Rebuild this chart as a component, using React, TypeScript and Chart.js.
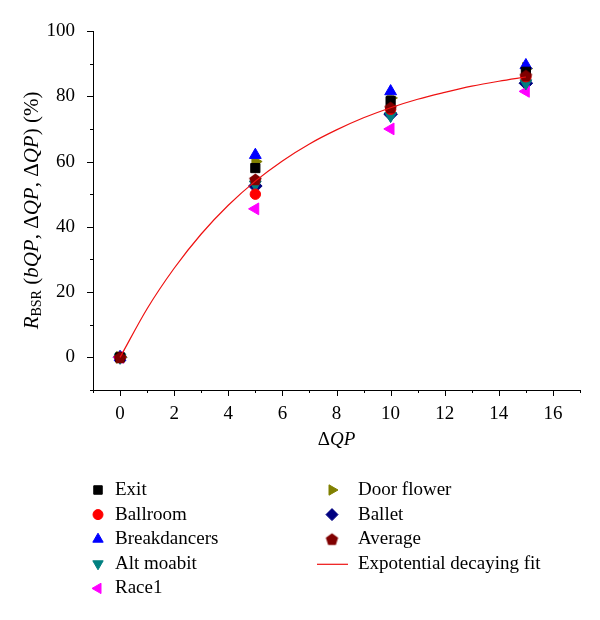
import React, { useEffect, useRef } from 'react';
import { Chart, registerables } from 'chart.js';
import { drawPoint } from 'chart.js/helpers';

Chart.register(...registerables);

// ---- data ----
const xValues = [0, 5, 10, 15];
const exitVals = [0, 58, 78.5, 87.5];
const ballroomVals = [0, 50, 76, 86];
const breakdancersVals = [0, 62, 81.5, 89.5];
const altMoabitVals = [0, 53, 74, 84];
const race1Vals = [0, 45.5, 70, 81.5];
const doorFlowerVals = [0, 60, 79.5, 88.5];
const balletVals = [0, 52.5, 74.5, 84];
const averageVals = [0, 54.5, 76.5, 86.3];

const fitX = [0, 1, 2, 3, 4, 5, 6, 7, 8, 9, 10, 11, 12, 13, 14, 15];
const fitY = [0, 14.9, 27.3, 37.8, 46.6, 54.0, 60.2, 65.4, 69.7, 73.4, 76.5, 79.1, 81.2, 83.1, 84.6, 85.9];

const xTickLabels = [0, 2, 4, 6, 8, 10, 12, 14, 16];
const yTickLabels = [0, 20, 40, 60, 80, 100];

const FONT = '"Liberation Serif", "DejaVu Serif", serif';

type Series = { label: string; values: number[]; color: string; style: string; rotation: number; radius: number };

const series: Series[] = [
  { label: 'Exit', values: exitVals, color: '#000000', style: 'rect', rotation: 0, radius: 6.5 },
  { label: 'Ballroom', values: ballroomVals, color: '#ff0000', style: 'circle', rotation: 0, radius: 5.2 },
  { label: 'Breakdancers', values: breakdancersVals, color: '#0000ff', style: 'triangle', rotation: 0, radius: 6.8 },
  { label: 'Alt moabit', values: altMoabitVals, color: '#008080', style: 'triangle', rotation: 180, radius: 6.8 },
  { label: 'Race1', values: race1Vals, color: '#ff00ff', style: 'triangle', rotation: 270, radius: 6.8 },
  { label: 'Door flower', values: doorFlowerVals, color: '#808000', style: 'triangle', rotation: 90, radius: 6.8 },
  { label: 'Ballet', values: balletVals, color: '#000080', style: 'rectRot', rotation: 0, radius: 6.8 },
  { label: 'Average', values: averageVals, color: '#800000', style: 'pentagon', rotation: 0, radius: 6 },
];
const fitLabel = 'Expotential decaying fit';
const fitColor = '#ee1111';

function makePentagon(color: string, r: number): HTMLCanvasElement {
  const size = Math.ceil(r * 2 + 2);
  const c = document.createElement('canvas');
  c.width = size;
  c.height = size;
  const ctx = c.getContext('2d')!;
  ctx.fillStyle = color;
  ctx.beginPath();
  for (let i = 0; i < 5; i++) {
    const a = -Math.PI / 2 + (i * 2 * Math.PI) / 5;
    const px = size / 2 + r * Math.cos(a);
    const py = size / 2 + 0.5 + r * Math.sin(a);
    if (i === 0) ctx.moveTo(px, py);
    else ctx.lineTo(px, py);
  }
  ctx.closePath();
  ctx.fill();
  return c;
}

type Seg = { t: string; italic?: boolean; sub?: boolean };

function segFont(s: Seg, size: number) {
  const sz = s.sub ? Math.round(size * 0.66) : size;
  return `${s.italic ? 'italic ' : ''}${sz}px ${FONT}`;
}

function drawSegs(ctx: CanvasRenderingContext2D, segs: Seg[], cx: number, cy: number, size: number) {
  let total = 0;
  for (const s of segs) {
    ctx.font = segFont(s, size);
    total += ctx.measureText(s.t).width;
  }
  let x = cx - total / 2;
  ctx.textBaseline = 'middle';
  ctx.textAlign = 'left';
  for (const s of segs) {
    ctx.font = segFont(s, size);
    ctx.fillText(s.t, x, cy + (s.sub ? size * 0.25 : 0));
    x += ctx.measureText(s.t).width;
  }
}

export default function App() {
  const ref = useRef<HTMLCanvasElement | null>(null);

  useEffect(() => {
    const canvas = ref.current;
    if (!canvas) return;
    const pentagon = makePentagon('#800000', 6.5);

    const datasets: any[] = series.map((s, i) => ({
      type: 'scatter',
      label: s.label,
      data: xValues.map((x, j) => ({ x, y: s.values[j] })),
      backgroundColor: s.color,
      borderColor: s.color,
      borderWidth: 1,
      pointStyle: s.style === 'pentagon' ? pentagon : s.style,
      rotation: s.rotation,
      pointRadius: s.radius,
      showLine: false,
      order: s.label === 'Average' ? 1 : 2 + i,
    }));
    datasets.push({
      type: 'line',
      label: fitLabel,
      data: fitX.map((x, j) => ({ x, y: fitY[j] })),
      borderColor: fitColor,
      backgroundColor: fitColor,
      borderWidth: 1.2,
      pointRadius: 0,
      fill: false,
      cubicInterpolationMode: 'monotone',
      order: 0,
    });

    const decor = {
      id: 'decor',
      afterDraw(chart: any) {
        const ctx: CanvasRenderingContext2D = chart.ctx;
        const xs = chart.scales.x;
        const ys = chart.scales.y;
        const { left, right, top, bottom } = chart.chartArea;
        ctx.save();
        ctx.strokeStyle = '#000';
        ctx.fillStyle = '#000';
        ctx.lineWidth = 1;
        // axes lines
        ctx.beginPath();
        ctx.moveTo(left, Math.round(bottom) + 0.5);
        ctx.lineTo(right, Math.round(bottom) + 0.5);
        ctx.moveTo(Math.round(left) + 0.5, top);
        ctx.lineTo(Math.round(left) + 0.5, bottom + 0.5);
        // x ticks
        for (let v = -1; v <= 17; v++) {
          const px = Math.round(xs.getPixelForValue(v)) + 0.5;
          const len = v % 2 === 0 ? 6 : 3;
          ctx.moveTo(px, bottom);
          ctx.lineTo(px, bottom + len);
        }
        // y ticks
        for (let v = -10; v <= 100; v += 10) {
          const py = Math.round(ys.getPixelForValue(v)) + 0.5;
          const len = v % 20 === 0 ? 6 : 3;
          ctx.moveTo(left, py);
          ctx.lineTo(left - len, py);
        }
        ctx.stroke();

        // axis titles
        drawSegs(ctx, [{ t: 'Δ' }, { t: 'QP', italic: true }], (left + right) / 2, 440, 19);
        ctx.save();
        ctx.translate(32, (top + bottom) / 2);
        ctx.rotate(-Math.PI / 2);
        drawSegs(
          ctx,
          [
            { t: 'R', italic: true },
            { t: 'BSR', sub: true },
            { t: ' (' },
            { t: 'b', italic: true },
            { t: 'QP', italic: true },
            { t: ', Δ' },
            { t: 'QP', italic: true },
            { t: ', Δ' },
            { t: 'QP', italic: true },
            { t: ') (%)' },
          ],
          0,
          0,
          21
        );
        ctx.restore();

        // legend
        const rowY0 = 490;
        const rowH = 24.6;
        ctx.textBaseline = 'middle';
        ctx.textAlign = 'left';
        const items: any[] = [...series, { label: fitLabel, line: true }];
        items.forEach((it, i) => {
          const col = i < 5 ? 0 : 1;
          const row = i < 5 ? i : i - 5;
          const mx = col === 0 ? 98 : 332;
          const tx = col === 0 ? 115 : 358;
          const y = rowY0 + row * rowH;
          if (it.line) {
            ctx.strokeStyle = fitColor;
            ctx.lineWidth = 1.2;
            ctx.beginPath();
            ctx.moveTo(317, y + 0.5);
            ctx.lineTo(348, y + 0.5);
            ctx.stroke();
          } else if (it.style === 'pentagon') {
            ctx.drawImage(pentagon, mx - pentagon.width / 2, y - pentagon.height / 2);
          } else {
            ctx.fillStyle = it.color;
            ctx.strokeStyle = it.color;
            ctx.lineWidth = 1;
            drawPoint(ctx, { pointStyle: it.style, rotation: it.rotation, radius: it.style === 'circle' ? 5 : 6, borderWidth: 1 } as any, mx, y);
          }
          ctx.fillStyle = '#000';
          ctx.font = `19px ${FONT}`;
          ctx.fillText(it.label, tx, y);
        });
        ctx.restore();
      },
    };

    const chart = new Chart(canvas, {
      type: 'scatter',
      data: { datasets },
      options: {
        animation: false,
        responsive: false,
        maintainAspectRatio: false,
        layout: { padding: { left: 0, right: 20, top: 31, bottom: 180 } },
        plugins: { legend: { display: false }, tooltip: { enabled: false } },
        scales: {
          x: {
            type: 'linear',
            min: -1,
            max: 17,
            grid: { display: false },
            border: { display: false },
            ticks: {
              stepSize: 1,
              autoSkip: false,
              maxRotation: 0,
              padding: 5,
              color: '#000',
              font: { family: FONT, size: 19 },
              callback: (v: any) => (xTickLabels.includes(Number(v)) ? String(v) : ''),
            },
            afterFit: (s: any) => {
              s.height = 50;
            },
          },
          y: {
            type: 'linear',
            min: -10,
            max: 100,
            grid: { display: false },
            border: { display: false },
            ticks: {
              stepSize: 10,
              autoSkip: false,
              padding: 10,
              color: '#000',
              font: { family: FONT, size: 19 },
              callback: (v: any) => (yTickLabels.includes(Number(v)) ? String(v) : ''),
            },
            afterFit: (s: any) => {
              s.width = 93;
            },
          },
        },
      } as any,
      plugins: [decor],
    });
    return () => chart.destroy();
  }, []);

  return (
    <div style={{ position: 'fixed', left: 0, top: 0, width: 600, height: 620, background: '#fff' }}>
      <canvas ref={ref} width={600} height={620} style={{ width: 600, height: 620, display: 'block' }} />
    </div>
  );
}
